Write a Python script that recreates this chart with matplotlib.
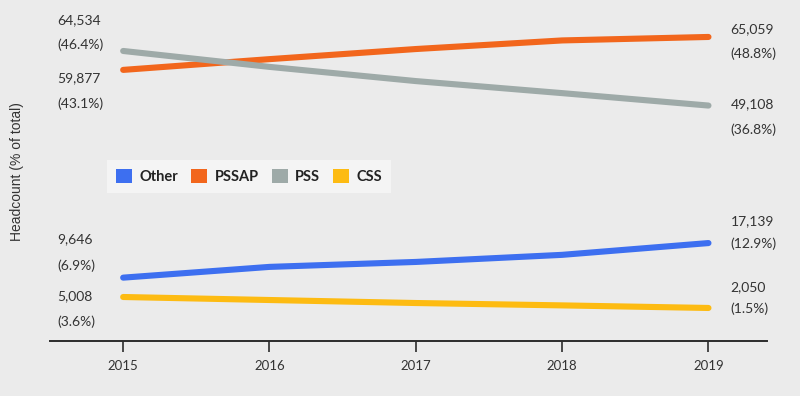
import matplotlib.pyplot as plt
from matplotlib.patches import Patch

# data
years = [2015, 2016, 2017, 2018, 2019]
series_names = ["Other", "PSSAP", "PSS", "CSS"]
other = [9100, 11600, 12750, 14400, 17139]
pssap = [57400, 59900, 62250, 64250, 65059]
pss = [61800, 58100, 54800, 52000, 49108]
css = [4600, 3900, 3200, 2650, 2050]

start_counts = ["9,646", "59,877", "64,534", "5,008"]
start_shares = ["(6.9%)", "(43.1%)", "(46.4%)", "(3.6%)"]
end_counts = ["17,139", "65,059", "49,108", "2,050"]
end_shares = ["(12.9%)", "(48.8%)", "(36.8%)", "(1.5%)"]

colors = ["#3d6ff0", "#f2661c", "#9eaaa8", "#fdbb12"]
bg = "#ebebeb"
txt = "#333333"

# pixel offsets of the two label lines (count, share) from the line ends
start_offsets = [(38, 12), (-8, -34), (31, 6), (1, -25)]
end_offsets = [(22, -1), (8, -17), (1, -24), (21, -1)]

plt.rcParams['font.family'] = ['Lato', 'DejaVu Sans']

fig = plt.figure(figsize=(8, 3.96), dpi=100, facecolor=bg)
ax = fig.add_axes([50 / 800, 1 - 341 / 396, 717 / 800, 341 / 396])
ax.set_facecolor(bg)

data = [other, pssap, pss, css]
for vals, c in zip(data, colors):
    ax.plot(years, vals, color=c, lw=4.4, solid_capstyle='round', zorder=3)

for i, vals in enumerate(data):
    for j, s in enumerate([start_counts[i], start_shares[i]]):
        ax.annotate(s, xy=(years[0], vals[0]), xytext=(-66, start_offsets[i][j]),
                    textcoords='offset pixels', ha='left', va='center',
                    fontsize=10, color=txt)
    for j, s in enumerate([end_counts[i], end_shares[i]]):
        ax.annotate(s, xy=(years[-1], vals[-1]), xytext=(22, end_offsets[i][j]),
                    textcoords='offset pixels', ha='left', va='center',
                    fontsize=10, color=txt)

ax.set_xlim(2014.5, 2019.4)
ax.set_ylim(-5630, 73650)
ax.set_xticks(years)
ax.set_xticklabels([str(y) for y in years], fontsize=9.5, color=txt)
ax.set_yticks([])
for side in ['top', 'right', 'left']:
    ax.spines[side].set_visible(False)
ax.spines['bottom'].set_color('#2b2b2b')
ax.spines['bottom'].set_linewidth(1.4)
ax.tick_params(axis='x', length=8, width=1.2, color='#2b2b2b', pad=6)

fig.text(17 / 800, 1 - 172 / 396, "Headcount (% of total)", rotation=90, ha='center',
         va='center', fontsize=10, color=txt, family=['Liberation Sans', 'DejaVu Sans'])

handles = [Patch(facecolor=c, edgecolor='none') for c in colors]
leg = fig.legend(handles, series_names, loc='upper left',
                 bbox_to_anchor=(100 / 800, 1 - 153 / 396), ncol=4,
                 frameon=True, fancybox=False, handlelength=1.1, handleheight=1.1,
                 handletextpad=0.5, columnspacing=0.9, borderpad=0.6,
                 prop={'weight': 'bold', 'size': 10.5})
leg.get_frame().set_facecolor('#f7f7f7')
leg.get_frame().set_edgecolor('none')
for t in leg.get_texts():
    t.set_color('#222222')

fig.savefig("out.png", dpi=100, facecolor=bg)
